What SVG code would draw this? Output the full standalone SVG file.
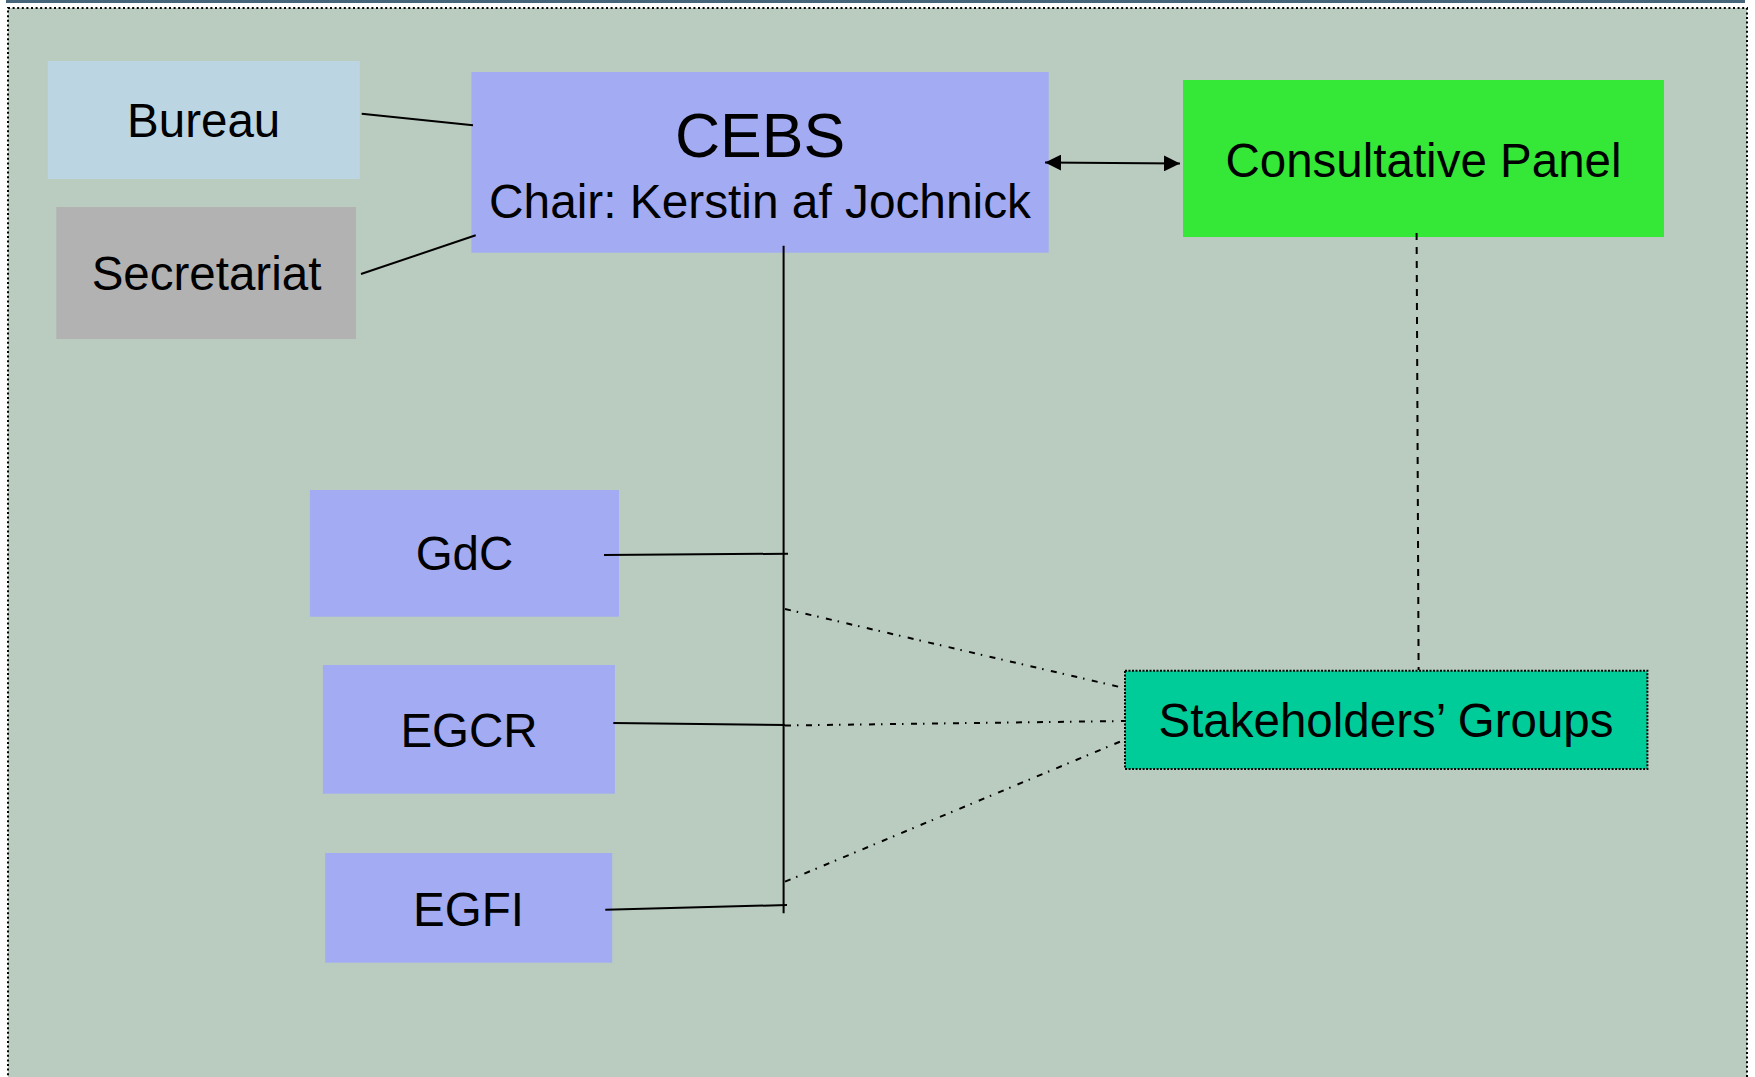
<svg xmlns="http://www.w3.org/2000/svg" width="1755" height="1077" viewBox="0 0 1755 1077">
<defs>
<style>
.lbl{font-family:"Liberation Sans",Arial,sans-serif;fill:#000;text-anchor:middle}
.solid{stroke:#000;stroke-width:2;fill:none}
.dashdot{stroke:#000;stroke-width:2;fill:none;stroke-dasharray:6 6 1.5 7.5}
.dashed{stroke:#000;stroke-width:2;fill:none;stroke-dasharray:7 7}
.blue{fill:#a3acf3}
</style>
<marker id="ah" viewBox="0 0 16 16" refX="16" refY="8" markerWidth="16" markerHeight="16" markerUnits="userSpaceOnUse" orient="auto-start-reverse">
<path d="M0,0 L16,8 L0,16 Z" fill="#000"/>
</marker>
</defs>
<rect x="0" y="0" width="1755" height="1077" fill="#ffffff"/>
<rect x="6" y="0" width="1739" height="3" fill="#46647a"/>
<rect x="8" y="8" width="1739" height="1090" fill="#bacbbf" stroke="#000" stroke-width="2" stroke-dasharray="2 2.6"/>

<g id="bureau">
<rect x="47.8" y="61" width="312" height="118" fill="#bcd5e3"/>
<text class="lbl" x="203.7" y="137.3" font-size="47.5">Bureau</text>
</g>
<g id="secretariat">
<rect x="56.3" y="207" width="299.7" height="132" fill="#b2b2b2"/>
<text class="lbl" x="206.5" y="290" font-size="47.5">Secretariat</text>
</g>
<g id="cebs">
<rect class="blue" x="471.4" y="72" width="577.3" height="180.7"/>
<text class="lbl" x="760" y="156.7" font-size="62.5">CEBS</text>
<text class="lbl" x="760" y="218.3" font-size="47.8">Chair: Kerstin af Jochnick</text>
</g>
<g id="consultative-panel">
<rect x="1183" y="80" width="481" height="157" fill="#35e838"/>
<text class="lbl" x="1423.5" y="176.7" font-size="47.5">Consultative Panel</text>
</g>
<g id="gdc">
<rect class="blue" x="309.9" y="490" width="309.1" height="126.7"/>
<text class="lbl" x="464.5" y="570" font-size="47.5">GdC</text>
</g>
<g id="egcr">
<rect class="blue" x="322.9" y="665" width="292" height="128.7"/>
<text class="lbl" x="469" y="746.7" font-size="47.5">EGCR</text>
</g>
<g id="egfi">
<rect class="blue" x="325.2" y="853" width="287" height="109.7"/>
<text class="lbl" x="468.5" y="925.7" font-size="47.5">EGFI</text>
</g>
<g id="stakeholders">
<rect x="1125" y="670.7" width="522.4" height="98.3" fill="#00cc99" stroke="#000" stroke-width="2" stroke-dasharray="2 1.5"/>
<text class="lbl" x="1386" y="736.7" font-size="47.5">Stakeholders’ Groups</text>
</g>

<g id="connectors">
<line class="solid" x1="361.7" y1="113.7" x2="473" y2="125.3"/>
<line class="solid" x1="361" y1="274" x2="475.7" y2="235.3"/>
<line class="solid" x1="1045" y1="162.5" x2="1180" y2="163.5" marker-start="url(#ah)" marker-end="url(#ah)"/>
<line class="solid" x1="783.6" y1="245.7" x2="783.6" y2="913.3" stroke-width="1.6"/>
<line class="solid" x1="604" y1="555" x2="788" y2="553.7"/>
<line class="solid" x1="613.3" y1="723" x2="785" y2="725"/>
<line class="solid" x1="605.3" y1="909.7" x2="787" y2="905"/>
<line class="dashdot" x1="785" y1="609" x2="1124" y2="688"/>
<line class="dashdot" x1="785" y1="725.5" x2="1124" y2="721"/>
<line class="dashdot" x1="785" y1="881.7" x2="1124" y2="740"/>
<line class="dashed" x1="1416.6" y1="233" x2="1418.6" y2="670"/>
</g>
</svg>
